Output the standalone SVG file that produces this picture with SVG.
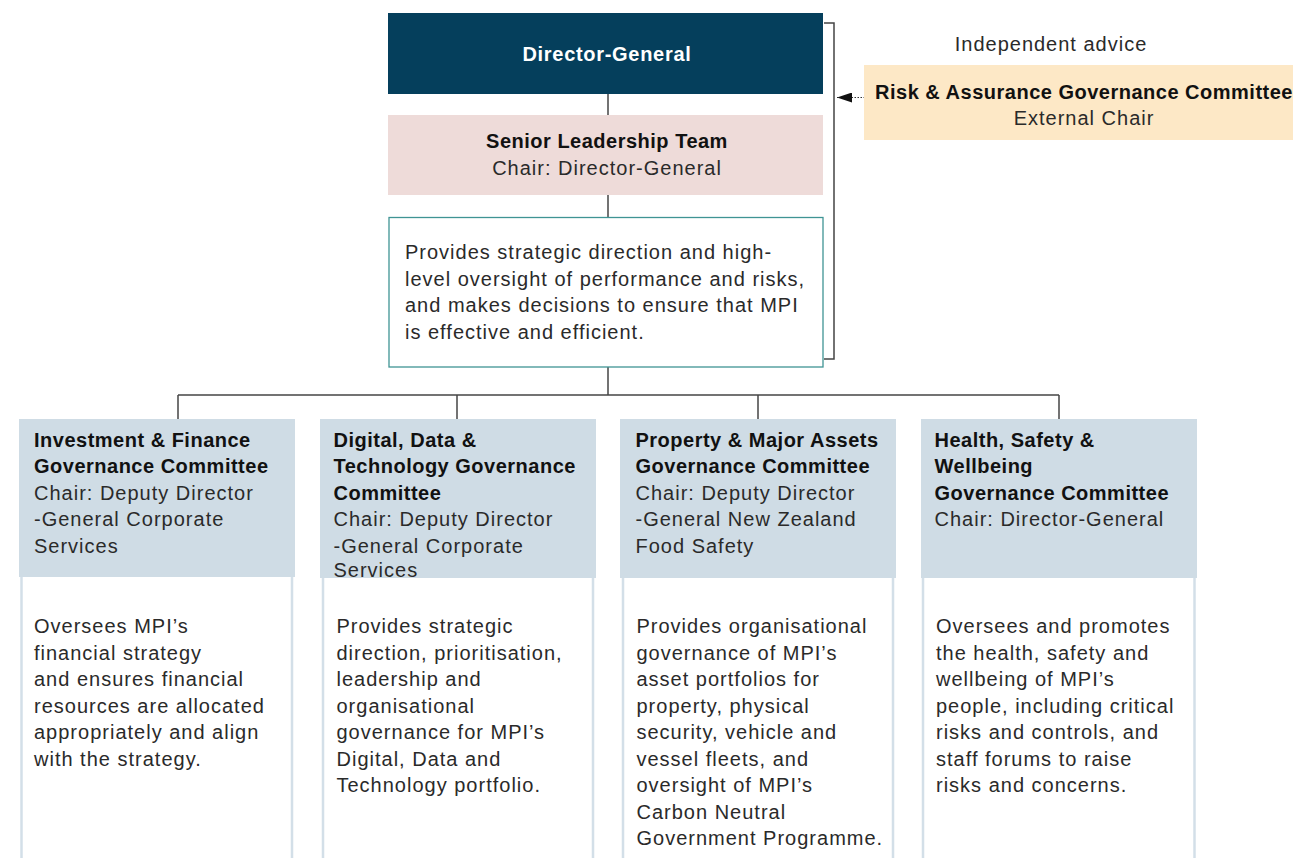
<svg xmlns="http://www.w3.org/2000/svg" width="1293" height="858" viewBox="0 0 1293 858">
  <style>
    text { font-family: "Liberation Sans", Arial, sans-serif; font-size: 20px; fill: #2a2a2a; }
    .b { font-weight: bold; letter-spacing: 0.5px; fill: #111; }
    .r { letter-spacing: 1px; }
    .w { fill: #ffffff; letter-spacing: 0.7px; }
    .mid { text-anchor: middle; }
    .conn { stroke: #444; stroke-width: 1.5; fill: none; }
    .head { fill: #cfdce5; }
    .side { stroke: #d3dfe8; stroke-width: 2.5; fill: none; }
  </style>
  <defs>
    <marker id="arrow" viewBox="0 0 15 10" refX="15" refY="5" markerWidth="15" markerHeight="10" markerUnits="userSpaceOnUse" orient="auto">
      <path d="M0,0 L15,5 L0,10 Z" fill="#111"/>
    </marker>
  </defs>

  <rect width="1293" height="858" fill="#ffffff"/>

  <!-- connectors -->
  <g id="connectors">
    <line class="conn" x1="608" y1="94" x2="608" y2="115"/>
    <line class="conn" x1="608" y1="195" x2="608" y2="217"/>
    <line class="conn" x1="608" y1="367" x2="608" y2="395"/>
    <line class="conn" x1="178" y1="395" x2="1059" y2="395"/>
    <line class="conn" x1="178" y1="395" x2="178" y2="419"/>
    <line class="conn" x1="457" y1="395" x2="457" y2="419"/>
    <line class="conn" x1="758" y1="395" x2="758" y2="419"/>
    <line class="conn" x1="1059" y1="395" x2="1059" y2="419"/>
    <!-- bracket around the leadership group -->
    <polyline class="conn" points="824,23 834,23 834,359 824,359"/>
    <!-- advice arrow -->
    <line x1="865" y1="97.5" x2="837" y2="97.5" stroke="#333" stroke-width="1" stroke-dasharray="1.5,1.5" marker-end="url(#arrow)"/>
  </g>

  <!-- Director-General -->
  <g id="director-general">
    <rect x="388" y="13" width="435" height="81" fill="#053f5c"/>
    <text class="b w mid" x="607" y="61">Director-General</text>
  </g>

  <!-- Senior Leadership Team -->
  <g id="slt">
    <rect x="388" y="115" width="435" height="80" fill="#eedbd9"/>
    <text class="b mid" x="607" y="148">Senior Leadership Team</text>
    <text class="r mid" x="607" y="175">Chair: Director-General</text>
  </g>

  <!-- SLT role -->
  <g id="slt-role">
    <rect x="389" y="217.5" width="434" height="149.5" fill="#ffffff" stroke="#3f9494" stroke-width="1.3"/>
    <text class="r" x="405" y="259">Provides strategic direction and high-</text>
    <text class="r" x="405" y="285.5">level oversight of performance and risks,</text>
    <text class="r" x="405" y="312">and makes decisions to ensure that MPI</text>
    <text class="r" x="405" y="338.5">is effective and efficient.</text>
  </g>

  <!-- Risk & Assurance -->
  <g id="risk-assurance">
    <text class="r mid" x="1051" y="50.5">Independent advice</text>
    <rect x="864" y="65" width="429" height="75" fill="#fde8c6"/>
    <text class="b mid" x="1084" y="99">Risk &amp; Assurance Governance Committee</text>
    <text class="r mid" x="1084" y="125">External Chair</text>
  </g>

  <!-- Investment & Finance -->
  <g id="investment-finance">
    <rect class="head" x="19" y="419" width="276" height="158"/>
    <line class="side" x1="21.5" y1="577" x2="21.5" y2="858"/>
    <line class="side" x1="292" y1="577" x2="292" y2="858"/>
    <text class="b" x="34" y="446.5">Investment &amp; Finance</text>
    <text class="b" x="34" y="473">Governance Committee</text>
    <text class="r" x="34" y="499.5">Chair: Deputy Director</text>
    <text class="r" x="34" y="526">-General Corporate</text>
    <text class="r" x="34" y="552.5">Services</text>
    <text class="r" x="34" y="633">Oversees MPI’s</text>
    <text class="r" x="34" y="659.5">financial strategy</text>
    <text class="r" x="34" y="686">and ensures financial</text>
    <text class="r" x="34" y="712.5">resources are allocated</text>
    <text class="r" x="34" y="739">appropriately and align</text>
    <text class="r" x="34" y="765.5">with the strategy.</text>
  </g>

  <!-- Digital, Data & Technology -->
  <g id="digital-data-technology">
    <rect class="head" x="320" y="419" width="276" height="159"/>
    <line class="side" x1="323" y1="578" x2="323" y2="858"/>
    <line class="side" x1="593" y1="578" x2="593" y2="858"/>
    <text class="b" x="333.5" y="446.5">Digital, Data &amp;</text>
    <text class="b" x="333.5" y="473">Technology Governance</text>
    <text class="b" x="333.5" y="499.5">Committee</text>
    <text class="r" x="333.5" y="526">Chair: Deputy Director</text>
    <text class="r" x="333.5" y="552.5">-General Corporate</text>
    <text class="r" x="333.5" y="577">Services</text>
    <text class="r" x="336.5" y="633">Provides strategic</text>
    <text class="r" x="336.5" y="659.5">direction, prioritisation,</text>
    <text class="r" x="336.5" y="686">leadership and</text>
    <text class="r" x="336.5" y="712.5">organisational</text>
    <text class="r" x="336.5" y="739">governance for MPI’s</text>
    <text class="r" x="336.5" y="765.5">Digital, Data and</text>
    <text class="r" x="336.5" y="792">Technology portfolio.</text>
  </g>

  <!-- Property & Major Assets -->
  <g id="property-assets">
    <rect class="head" x="620" y="419" width="276" height="159"/>
    <line class="side" x1="623" y1="578" x2="623" y2="858"/>
    <line class="side" x1="893" y1="578" x2="893" y2="858"/>
    <text class="b" x="635.5" y="446.5">Property &amp; Major Assets</text>
    <text class="b" x="635.5" y="473">Governance Committee</text>
    <text class="r" x="635.5" y="499.5">Chair: Deputy Director</text>
    <text class="r" x="635.5" y="526">-General New Zealand</text>
    <text class="r" x="635.5" y="552.5">Food Safety</text>
    <text class="r" x="636.5" y="633">Provides organisational</text>
    <text class="r" x="636.5" y="659.5">governance of MPI’s</text>
    <text class="r" x="636.5" y="686">asset portfolios for</text>
    <text class="r" x="636.5" y="712.5">property, physical</text>
    <text class="r" x="636.5" y="739">security, vehicle and</text>
    <text class="r" x="636.5" y="765.5">vessel fleets, and</text>
    <text class="r" x="636.5" y="792">oversight of MPI’s</text>
    <text class="r" x="636.5" y="818.5">Carbon Neutral</text>
    <text class="r" x="636.5" y="845">Government Programme.</text>
  </g>

  <!-- Health, Safety & Wellbeing -->
  <g id="health-safety-wellbeing">
    <rect class="head" x="921" y="419" width="276" height="159"/>
    <line class="side" x1="923" y1="578" x2="923" y2="858"/>
    <line class="side" x1="1194.5" y1="578" x2="1194.5" y2="858"/>
    <text class="b" x="934.5" y="446.5">Health, Safety &amp;</text>
    <text class="b" x="934.5" y="473">Wellbeing</text>
    <text class="b" x="934.5" y="499.5">Governance Committee</text>
    <text class="r" x="934.5" y="526">Chair: Director-General</text>
    <text class="r" x="936" y="633">Oversees and promotes</text>
    <text class="r" x="936" y="659.5">the health, safety and</text>
    <text class="r" x="936" y="686">wellbeing of MPI’s</text>
    <text class="r" x="936" y="712.5">people, including critical</text>
    <text class="r" x="936" y="739">risks and controls, and</text>
    <text class="r" x="936" y="765.5">staff forums to raise</text>
    <text class="r" x="936" y="792">risks and concerns.</text>
  </g>
</svg>
